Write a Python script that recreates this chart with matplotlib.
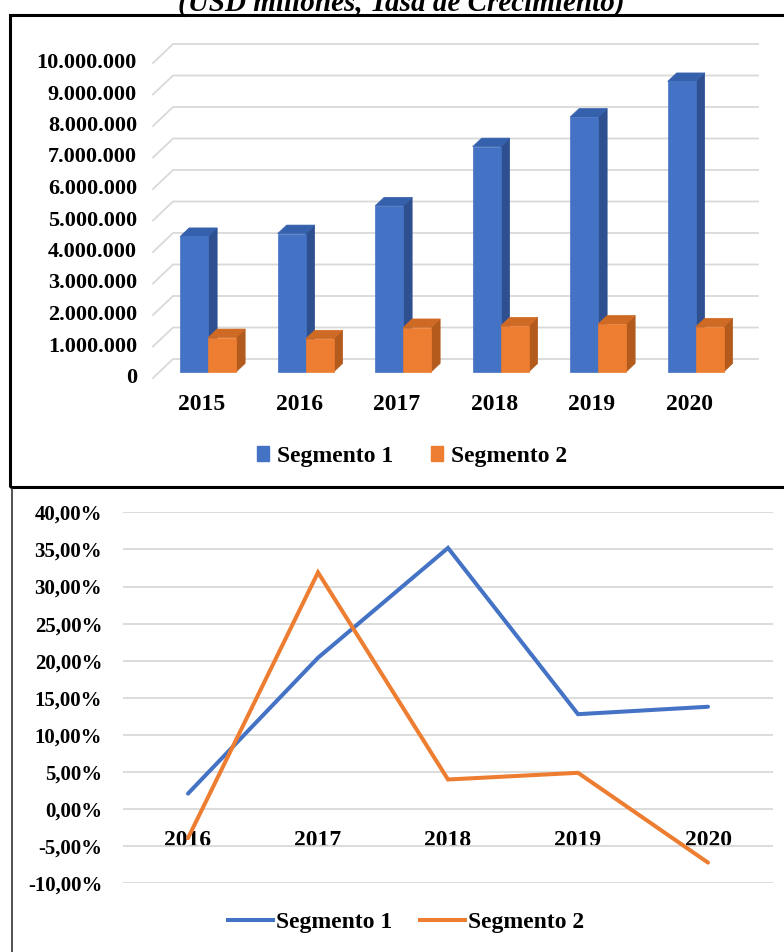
import matplotlib
matplotlib.use('Agg')
import matplotlib.pyplot as plt
from matplotlib.patches import Polygon, Rectangle, Patch
from matplotlib.lines import Line2D

# ---------------- data ----------------
title = "(USD millones, Tasa de Crecimiento)"
series_names = ["Segmento 1", "Segmento 2"]

bar_years = ["2015", "2016", "2017", "2018", "2019", "2020"]
seg1_values = [4300000, 4390000, 5270000, 7150000, 8090000, 9220000]
seg2_values = [1090000, 1050000, 1410000, 1460000, 1520000, 1430000]
bar_yticks = [0, 1000000, 2000000, 3000000, 4000000, 5000000,
              6000000, 7000000, 8000000, 9000000, 10000000]
bar_ytick_labels = ["0", "1.000.000", "2.000.000", "3.000.000", "4.000.000",
                    "5.000.000", "6.000.000", "7.000.000", "8.000.000",
                    "9.000.000", "10.000.000"]

line_years = ["2016", "2017", "2018", "2019", "2020"]
seg1_growth = [2.1, 20.4, 35.2, 12.8, 13.8]
seg2_growth = [-3.9, 31.9, 4.0, 4.9, -7.2]
line_yticks = [-10, -5, 0, 5, 10, 15, 20, 25, 30, 35, 40]
line_ytick_labels = ["-10,00%", "-5,00%", "0,00%", "5,00%", "10,00%", "15,00%",
                     "20,00%", "25,00%", "30,00%", "35,00%", "40,00%"]

# ---------------- style ----------------
BLUE, BLUE_SIDE, BLUE_TOP = "#4472C4", "#2E5090", "#3560AC"
ORANGE, ORANGE_SIDE, ORANGE_TOP = "#ED7D31", "#B35A1D", "#CF6A24"
GRID = "#D9D9D9"

W, H, DPI = 784, 952, 100
plt.rcParams['font.family'] = ['Liberation Serif', 'DejaVu Serif']
plt.rcParams['font.weight'] = 'bold'
fig = plt.figure(figsize=(W / DPI, H / DPI), dpi=DPI)


def fx(px):
    return px / W


def fy(py):
    return 1 - py / H


# title (partly cut at the top as in the reference)
fig.text(fx(401), fy(11), title, ha='center', va='baseline', fontsize=21,
         fontstyle='italic', fontweight='bold')

# frame around the bar chart
fig.add_artist(Rectangle((fx(10), fy(487)), fx(810) - fx(10), fy(15) - fy(487),
                         transform=fig.transFigure, fill=False, ec='black', lw=2.2))
# frame line of the line chart
fig.add_artist(Line2D([fx(12), fx(12)], [fy(489), fy(960)], transform=fig.transFigure,
                      color='#333333', lw=1.2))

# ---------------- 3D-like bar chart ----------------
ax1 = fig.add_axes([fx(173), fy(359), fx(758) - fx(173), fy(44) - fy(359)])
ax1.set_xlim(-0.5, 5.5)
ax1.set_ylim(0, 10000000)
ax1.axis('off')

x_unit_px = (758 - 173) / 6.0
y_unit_px = (359 - 44) / 10000000.0
DX = -20 / x_unit_px          # full depth, x (data units)
DY = -19 / y_unit_px          # full depth, y (data units)

for g, lbl in zip(bar_yticks, bar_ytick_labels):
    ax1.plot([-0.5 + DX, -0.5, 5.5], [g + DY, g, g], color=GRID, lw=1.3,
             clip_on=False, zorder=1)
    ax1.annotate(lbl, xy=(-0.5 + DX, g + DY), xytext=(-16, 0),
                 textcoords='offset pixels', ha='right', va='center', fontsize=16,
                 annotation_clip=False)

for i, yr in enumerate(bar_years):
    ax1.annotate(yr, xy=(i + DX, DY), xytext=(0, -27), textcoords='offset pixels',
                 ha='center', va='center', fontsize=17, annotation_clip=False)

F_FRONT, DEPTH = 0.68, 0.45
BW = 28 / x_unit_px


def bar3d(ax, x0, w, v, c_front, c_side, c_top, z):
    ox, oy = DX * F_FRONT, DY * F_FRONT
    bx, by = DX * (F_FRONT - DEPTH), DY * (F_FRONT - DEPTH)
    side = [(x0 + w + ox, oy), (x0 + w + bx, by), (x0 + w + bx, v + by), (x0 + w + ox, v + oy)]
    top = [(x0 + ox, v + oy), (x0 + w + ox, v + oy), (x0 + w + bx, v + by), (x0 + bx, v + by)]
    front = [(x0 + ox, oy), (x0 + w + ox, oy), (x0 + w + ox, v + oy), (x0 + ox, v + oy)]
    for pts, col in ((side, c_side), (top, c_top), (front, c_front)):
        ax.add_patch(Polygon(pts, closed=True, fc=col, ec=col, lw=0.5,
                             clip_on=False, zorder=z))


for i, (v1, v2) in enumerate(zip(seg1_values, seg2_values)):
    bar3d(ax1, i - BW, BW, v1, BLUE, BLUE_SIDE, BLUE_TOP, 3 + 2 * i)
    bar3d(ax1, i, BW, v2, ORANGE, ORANGE_SIDE, ORANGE_TOP, 4 + 2 * i)

fig.legend(handles=[Patch(color=BLUE), Patch(color=ORANGE)], labels=series_names,
           loc='center', bbox_to_anchor=(fx(412), fy(456)), ncol=2, frameon=False,
           fontsize=17, handlelength=0.5, handleheight=0.6, handletextpad=0.35,
           columnspacing=1.6, borderpad=0, borderaxespad=0)

# ---------------- line chart ----------------
ax2 = fig.add_axes([fx(123), fy(883.4), fx(773) - fx(123), fy(512.3) - fy(883.4)])
for s in ax2.spines.values():
    s.set_visible(False)
ax2.spines['bottom'].set_position(('data', 0))
xs = list(range(len(line_years)))
ax2.set_xlim(-0.5, len(line_years) - 0.5)
ax2.set_ylim(-10, 40)
ax2.set_yticks(line_yticks)
ax2.set_yticklabels(line_ytick_labels)
ax2.set_xticks(xs)
ax2.set_xticklabels(line_years)
ax2.yaxis.grid(True, color=GRID, lw=1.3)
ax2.set_axisbelow(True)
ax2.tick_params(axis='y', length=0, pad=15, labelsize=15)
ax2.tick_params(axis='x', length=0, pad=15, labelsize=17)

ax2.plot(xs, seg1_growth, color=BLUE, lw=2.9, solid_capstyle='round',
         solid_joinstyle='miter', label=series_names[0], zorder=3)
ax2.plot(xs, seg2_growth, color=ORANGE, lw=2.9, solid_capstyle='round',
         solid_joinstyle='miter', label=series_names[1], zorder=4)

fig.legend(handles=[Line2D([], [], color=BLUE, lw=2.9), Line2D([], [], color=ORANGE, lw=2.9)],
           labels=series_names, loc='center', bbox_to_anchor=(fx(406), fy(922)), ncol=2,
           frameon=False, fontsize=17, handlelength=1.9, handletextpad=0.15,
           columnspacing=1.15, borderpad=0, borderaxespad=0)

fig.savefig('out.png', dpi=DPI)
